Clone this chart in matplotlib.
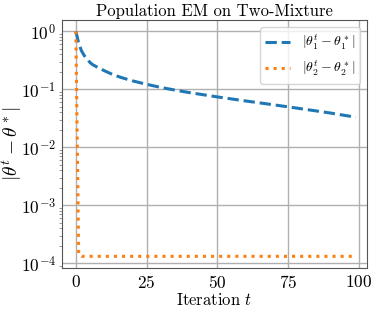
import matplotlib
matplotlib.use("Agg")
import matplotlib.pyplot as plt

plt.rcParams["font.family"] = "serif"
plt.rcParams["font.serif"] = ["cmr10", "DejaVu Serif"]
plt.rcParams["mathtext.fontset"] = "cm"
plt.rcParams["axes.formatter.use_mathtext"] = True

# theta_1 error
iters_1 = [0, 1, 2, 3, 4, 5, 6, 8, 10, 13, 16, 20, 25, 30, 35, 40, 50, 60, 70, 80, 90, 99]
err_1 = [1.0, 0.62, 0.46, 0.38, 0.33, 0.29, 0.265, 0.235, 0.21, 0.18, 0.16, 0.14, 0.122,
         0.108, 0.097, 0.088, 0.074, 0.063, 0.054, 0.046, 0.039, 0.033]

# theta_2 error
iters_2 = [0, 1, 2, 99]
err_2 = [1.0, 1.4e-4, 1.32e-4, 1.32e-4]

fig, ax = plt.subplots(figsize=(3.74, 3.12), dpi=100)

ax.plot(iters_1, err_1, linestyle="--", color="#1f77b4", linewidth=2.2,
        label=r"$|\theta_1^t - \theta_1^*|$")
ax.plot(iters_2, err_2, linestyle=":", color="#ff7f0e", linewidth=2.2,
        label=r"$|\theta_2^t - \theta_2^*|$")

ax.set_yscale("log")
ax.set_ylim(8.2e-5, 1.55)
ax.set_xlim(-5, 103)
ax.set_xticks([0, 25, 50, 75, 100])
ax.grid(True, which="major", color="#b0b0b0", linewidth=1)
ax.tick_params(labelsize=12.5, length=0, pad=4)
ax.tick_params(which="minor", length=2, color="#888888")
for s in ax.spines.values():
    s.set_color("#555555")

ax.set_title("Population EM on Two-Mixture", fontsize=12, pad=3)
ax.set_xlabel(r"Iteration $t$", fontsize=12, labelpad=1)
ax.set_ylabel(r"$|\theta^t - \theta^*|$", fontsize=14)
ax.yaxis.set_label_coords(-0.125, 0.5)
ax.legend(loc="upper right", fontsize=10, framealpha=0.8, borderaxespad=0.5,
          handlelength=1.8)

fig.subplots_adjust(left=0.165, right=0.982, top=0.935, bottom=0.14)
fig.savefig("out.png")
